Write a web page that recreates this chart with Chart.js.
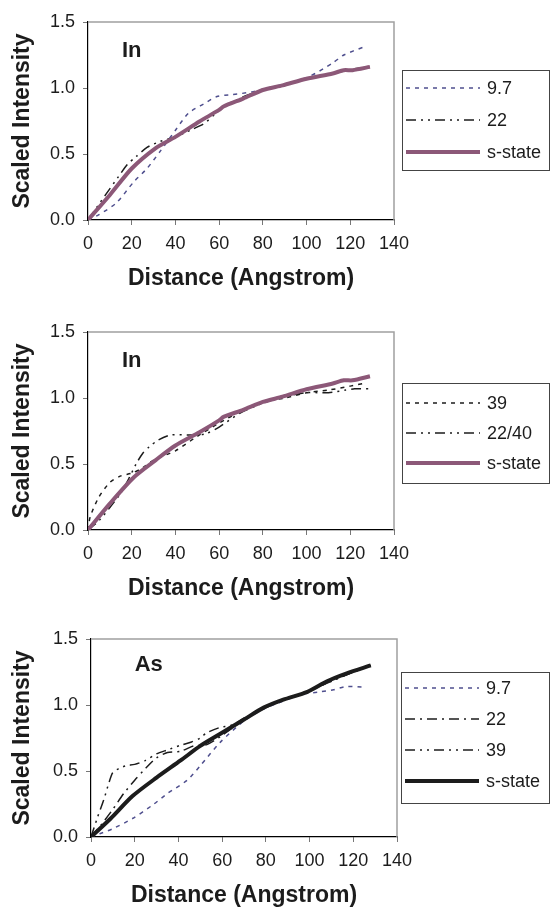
<!DOCTYPE html>
<html>
<head>
<meta charset="utf-8">
<script src="https://cdn.jsdelivr.net/npm/chart.js@4.4.1/dist/chart.umd.min.js"></script>
<style>
  html, body { margin: 0; padding: 0; background: #fff; overflow: hidden; }
  .panel { position: absolute; left: 0; width: 550px; height: 296px; }
</style>
</head>
<body>
<div class="panel" style="top:0px"><canvas id="chartIn1" width="550" height="296"></canvas></div>
<div class="panel" style="top:310px"><canvas id="chartIn2" width="550" height="296"></canvas></div>
<div class="panel" style="top:617px"><canvas id="chartAs" width="550" height="296"></canvas></div>
<script>
// ---- data ----
const xTicks = [0, 20, 40, 60, 80, 100, 120, 140];
const yTicks = [0, 0.5, 1.0, 1.5];

// panel 1, In
const in1Dist97 = [0, 5, 13, 21, 27, 33, 40, 46, 53, 59, 66, 75, 82, 91, 101, 112, 117, 126];
const in1Int97 = [0, 0.04, 0.13, 0.29, 0.39, 0.52, 0.68, 0.81, 0.88, 0.935, 0.95, 0.97, 1.0, 1.035, 1.085, 1.19, 1.25, 1.31];
const in1Dist22 = [0, 8, 14, 18, 22, 27, 33, 40, 48, 53, 58, 62, 68, 75, 82, 90, 100, 110, 120, 129];
const in1Int22 = [0, 0.19, 0.33, 0.42, 0.48, 0.55, 0.595, 0.63, 0.69, 0.73, 0.80, 0.86, 0.91, 0.96, 0.99, 1.02, 1.07, 1.10, 1.14, 1.16];
const in1DistS = [0, 10, 20, 31, 40, 51, 60, 62, 71, 80, 89, 100, 112, 117, 121, 129];
const in1IntS = [0, 0.19, 0.39, 0.545, 0.63, 0.746, 0.834, 0.86, 0.92, 0.985, 1.02, 1.07, 1.11, 1.135, 1.135, 1.16];

// panel 2, In
const in2Dist39 = [0, 1, 5, 10, 15, 20, 25, 30, 40, 50, 60, 70, 80, 90, 100, 110, 120, 126];
const in2Int39 = [0, 0.10, 0.25, 0.36, 0.41, 0.43, 0.47, 0.53, 0.60, 0.71, 0.81, 0.90, 0.97, 1.00, 1.04, 1.06, 1.09, 1.11];
const in2Dist2240 = [0, 5, 10, 15, 19, 22, 25, 28, 32, 38, 48, 54, 60, 70, 80, 90, 100, 110, 118, 122, 129];
const in2Int2240 = [0, 0.07, 0.17, 0.28, 0.40, 0.50, 0.58, 0.63, 0.68, 0.72, 0.72, 0.73, 0.78, 0.89, 0.96, 1.01, 1.04, 1.04, 1.06, 1.07, 1.07];
const in2DistS = [0, 10, 21, 31, 40, 51, 60, 62, 71, 80, 89, 100, 112, 117, 121, 129];
const in2IntS = [0, 0.20, 0.40, 0.53, 0.64, 0.74, 0.83, 0.857, 0.91, 0.97, 1.01, 1.066, 1.11, 1.134, 1.134, 1.165];

// panel 3, As
const asDist97 = [0, 4, 10, 19, 28, 35, 44, 50, 59, 70, 79, 88, 96, 105, 111, 117, 126];
const asInt97 = [0, 0.025, 0.063, 0.14, 0.24, 0.33, 0.43, 0.54, 0.715, 0.88, 0.97, 1.03, 1.08, 1.10, 1.116, 1.14, 1.134];
const asDist22 = [0, 5, 10, 15, 20, 25, 30, 35, 41, 47, 53, 60, 70, 80, 90, 100, 110, 120, 128];
const asInt22 = [0, 0.10, 0.21, 0.33, 0.43, 0.52, 0.60, 0.64, 0.65, 0.69, 0.70, 0.77, 0.89, 0.98, 1.05, 1.11, 1.18, 1.25, 1.30];
const asDist39 = [0, 3, 6, 8, 10, 13, 16, 20, 25, 30, 35, 41, 46, 50, 53, 59, 65, 70, 80, 90, 100, 110, 120, 128];
const asInt39 = [0, 0.15, 0.29, 0.40, 0.49, 0.52, 0.54, 0.55, 0.58, 0.63, 0.66, 0.695, 0.72, 0.75, 0.79, 0.83, 0.85, 0.90, 0.98, 1.05, 1.11, 1.18, 1.25, 1.30];
const asDistS = [0, 9, 19, 30, 41, 50, 59, 70, 79, 88, 99, 108, 117, 128];
const asIntS = [0, 0.14, 0.31, 0.45, 0.58, 0.69, 0.78, 0.89, 0.98, 1.04, 1.10, 1.18, 1.24, 1.30];

// ---- styling ----
const FONT = '"Liberation Sans", Arial, Helvetica, sans-serif';
const INK = "#1c1c1c";
const NAVY = "#4f4f8e";
const MAUVE = "#8c5878";

const DOTTED = [4, 5];
const DASH_DOT = [10, 5, 2, 5];
const DASH_DOT_DOT = [10, 5, 2, 5, 2, 5];

Chart.defaults.font.family = FONT;
Chart.defaults.color = INK;

function pairs(xs, ys) {
  return xs.map((x, i) => ({ x, y: ys[i] }));
}

function series(label, xs, ys, color, dash, width) {
  return {
    label,
    data: pairs(xs, ys),
    borderColor: color,
    backgroundColor: color,
    borderDash: dash,
    borderWidth: width,
    pointRadius: 0,
    tension: 0.25,
    fill: false,
    order: width > 2 ? 0 : 1
  };
}

// gray frame on top and right of the plot area
const frameLines = {
  id: "frameLines",
  afterDatasetsDraw(chart) {
    const { ctx, chartArea: a } = chart;
    ctx.save();
    ctx.strokeStyle = "#a0a0a0";
    ctx.lineWidth = 1.5;
    ctx.beginPath();
    ctx.moveTo(a.left, a.top);
    ctx.lineTo(a.right, a.top);
    ctx.lineTo(a.right, a.bottom);
    ctx.stroke();
    ctx.restore();
  }
};

// bold element label inside the plot ("In", "As")
const elementLabel = {
  id: "elementLabel",
  afterDatasetsDraw(chart, args, opts) {
    if (!opts?.text) return;
    const { ctx, scales } = chart;
    ctx.save();
    ctx.fillStyle = INK;
    ctx.font = `bold 22px ${FONT}`;
    ctx.textAlign = "left";
    ctx.textBaseline = "middle";
    ctx.fillText(opts.text, scales.x.getPixelForValue(opts.x), scales.y.getPixelForValue(opts.y));
    ctx.restore();
  }
};

// boxed legend to the right of the plot
const boxLegend = {
  id: "boxLegend",
  afterDraw(chart, args, opts) {
    if (!opts?.box) return;
    const { ctx } = chart;
    const b = opts.box;
    ctx.save();
    ctx.strokeStyle = "#444";
    ctx.lineWidth = 1;
    ctx.strokeRect(b.left + 0.5, b.top + 0.5, b.width, b.height);

    chart.data.datasets.forEach((ds, i) => {
      const y = b.top + opts.firstRow + i * opts.rowGap;
      ctx.strokeStyle = ds.borderColor;
      ctx.lineWidth = ds.borderWidth;
      ctx.setLineDash(ds.borderDash || []);
      ctx.beginPath();
      ctx.moveTo(b.left + 4, y);
      ctx.lineTo(b.left + 78, y);
      ctx.stroke();
      ctx.setLineDash([]);
      ctx.fillStyle = INK;
      ctx.font = `18px ${FONT}`;
      ctx.textAlign = "left";
      ctx.textBaseline = "middle";
      ctx.fillText(ds.label, b.left + 85, y + 1);
    });
    ctx.restore();
  }
};

function createPanel(canvasId, datasets, label, legend, leftWidth) {
  const canvas = document.getElementById(canvasId);
  return new Chart(canvas, {
    type: "line",
    data: { datasets },
    options: {
      responsive: false,
      devicePixelRatio: 1,
      animation: false,
      layout: { padding: { top: 22, right: 550 - leftWidth - 306, bottom: 0, left: 0 } },
      plugins: {
        legend: { display: false },
        tooltip: { enabled: false },
        elementLabel: label,
        boxLegend: legend
      },
      scales: {
        x: {
          type: "linear",
          min: 0,
          max: 140,
          afterBuildTicks: (s) => { s.ticks = xTicks.map((v) => ({ value: v })); },
          afterFit: (s) => { s.height = 76; },
          border: { display: true, color: "#000", width: 1.2 },
          grid: { display: true, drawOnChartArea: false, tickLength: 5, color: "#777" },
          ticks: { padding: 8, color: INK, font: { size: 18 }, maxRotation: 0 },
          title: {
            display: true,
            text: "Distance (Angstrom)",
            color: INK,
            font: { size: 23, weight: "bold" },
            padding: { top: 0, bottom: 4 }
          }
        },
        y: {
          type: "linear",
          min: 0,
          max: 1.5,
          afterBuildTicks: (s) => { s.ticks = yTicks.map((v) => ({ value: v })); },
          afterFit: (s) => { s.width = leftWidth; },
          border: { display: true, color: "#000", width: 1.2 },
          grid: { display: true, drawOnChartArea: false, tickLength: 5, color: "#777" },
          ticks: {
            padding: 8,
            color: INK,
            font: { size: 18 },
            callback: (v) => Number(v).toFixed(1)
          },
          title: {
            display: true,
            text: "Scaled Intensity",
            color: INK,
            font: { size: 23, weight: "bold" },
            padding: { top: 9, bottom: 0 }
          }
        }
      }
    },
    plugins: [frameLines, elementLabel, boxLegend]
  });
}

createPanel("chartIn1", [
  series("9.7", in1Dist97, in1Int97, NAVY, DOTTED, 1.5),
  series("22", in1Dist22, in1Int22, INK, DASH_DOT_DOT, 1.5),
  series("s-state", in1DistS, in1IntS, MAUVE, [], 4)
], { text: "In", x: 15.5, y: 1.28 },
   { box: { left: 402, top: 70, width: 147, height: 100 }, firstRow: 18, rowGap: 32 }, 88);

createPanel("chartIn2", [
  series("39", in2Dist39, in2Int39, INK, DOTTED, 1.5),
  series("22/40", in2Dist2240, in2Int2240, INK, DASH_DOT_DOT, 1.5),
  series("s-state", in2DistS, in2IntS, MAUVE, [], 4)
], { text: "In", x: 15.5, y: 1.28 },
   { box: { left: 402, top: 73, width: 147, height: 100 }, firstRow: 20, rowGap: 30 }, 88);

createPanel("chartAs", [
  series("9.7", asDist97, asInt97, NAVY, DOTTED, 1.5),
  series("22", asDist22, asInt22, INK, DASH_DOT, 1.5),
  series("39", asDist39, asInt39, INK, DASH_DOT_DOT, 1.5),
  series("s-state", asDistS, asIntS, INK, [], 4)
], { text: "As", x: 20, y: 1.30 },
   { box: { left: 401, top: 55, width: 148, height: 131 }, firstRow: 16, rowGap: 31 }, 91);
</script>
</body>
</html>
